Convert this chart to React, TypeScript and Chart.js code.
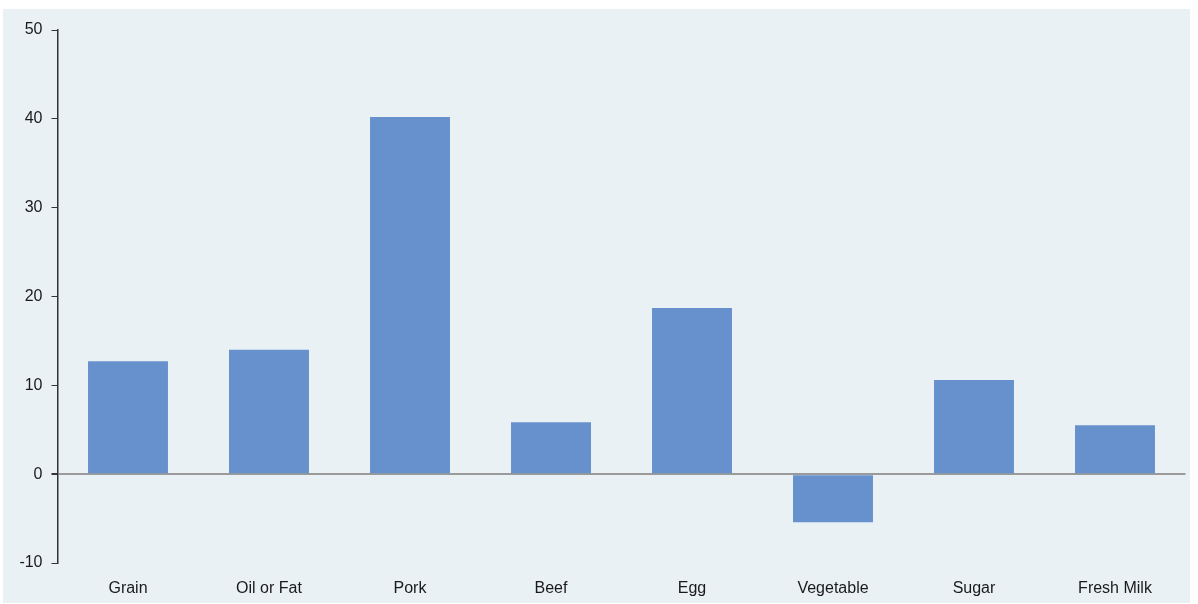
import React, { useEffect, useRef } from "react";
import { Chart, registerables } from "chart.js";

Chart.register(...registerables);

const categories = ["Grain", "Oil or Fat", "Pork", "Beef", "Egg", "Vegetable", "Sugar", "Fresh Milk"];
const values = [12.7, 14.0, 40.2, 5.85, 18.7, -5.4, 10.6, 5.5];
const yTicks = [-10, 0, 10, 20, 30, 40, 50];

export default function App() {
  const ref = useRef<HTMLCanvasElement | null>(null);

  useEffect(() => {
    if (!ref.current) return;
    const font = { family: "'Liberation Sans', Arial, sans-serif", size: 16 };
    const chart = new Chart(ref.current, {
      type: "bar",
      data: {
        labels: categories,
        datasets: [
          {
            data: values,
            backgroundColor: "#6691CC",
            borderWidth: 0,
            barPercentage: 0.567,
            categoryPercentage: 1,
          },
        ],
      },
      options: {
        animation: false,
        responsive: false,
        maintainAspectRatio: false,
        layout: { padding: { top: 21, right: 4.5, bottom: 6, left: 0 } },
        plugins: { legend: { display: false }, tooltip: { enabled: false } },
        scales: {
          x: {
            grid: { display: false, drawTicks: false },
            border: { display: false },
            ticks: { color: "#1a1a1a", font, padding: 16, maxRotation: 0, autoSkip: false },
            afterFit: (scale: any) => {
              scale.height = 34;
            },
          },
          y: {
            min: -10,
            max: 50,
            afterBuildTicks: (scale: any) => {
              scale.ticks = yTicks.map((v) => ({ value: v }));
            },
            afterFit: (scale: any) => {
              scale.width = 54.5;
            },
            grid: {
              drawOnChartArea: true,
              drawTicks: true,
              tickLength: 6,
              tickColor: "#333333",
              color: (ctx: any) => (ctx.tick && ctx.tick.value === 0 ? "#9a9a9a" : "rgba(0,0,0,0)"),
              lineWidth: (ctx: any) => (ctx.tick && ctx.tick.value === 0 ? 2 : 1),
            },
            border: { display: true, color: "#333333", width: 1.5 },
            ticks: { color: "#1a1a1a", font, padding: 9 },
          },
        },
      },
    });
    return () => chart.destroy();
  }, []);

  return (
    <div
      style={{
        position: "fixed",
        left: 3,
        top: 9,
        width: 1187,
        height: 594,
        background: "#E9F1F5",
      }}
    >
      <canvas ref={ref} width={1187} height={594} style={{ display: "block" }} />
    </div>
  );
}
